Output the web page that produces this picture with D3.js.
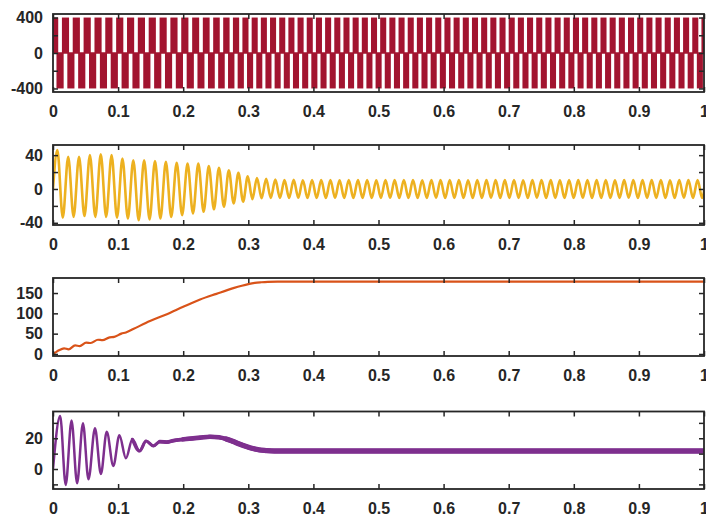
<!DOCTYPE html>
<html><head><meta charset="utf-8">
<script src="https://cdn.jsdelivr.net/npm/d3@7"></script>
<style>
html,body{margin:0;padding:0;background:#fff;overflow:hidden}
svg{display:block}
.axis text{font-family:"Liberation Sans",Arial,sans-serif;font-weight:bold;font-size:16px;fill:#262626}
.axis line{stroke:#262626;stroke-width:1.5}
</style></head><body>
<svg id="c" width="706" height="518"></svg>
<script>
// ---------- data ----------
const xTicks = [0,0.1,0.2,0.3,0.4,0.5,0.6,0.7,0.8,0.9,1];
const xTickLabels = ["0","0.1","0.2","0.3","0.4","0.5","0.6","0.7","0.8","0.9","1"];

const p1YTicks = [-400,-200,0,200,400];  const p1YLabels = [-400,0,400];
const p2YTicks = [-40,-20,0,20,40];      const p2YLabels = [-40,0,40];
const p3YTicks = [0,50,100,150];         const p3YLabels = [0,50,100,150];
const p4YTicks = [-10,0,10,20,30];       const p4YLabels = [0,20];

const cycleStart = [0,.0167,.0333,.05,.0667,.0833,.1,.1167,.1333,.15,.1667,.1833,.2,.2167,.233,.2488,.2641,.279,.2935,.3077,.3218,.3359,
 .35,.3641,.3782,.3923,.4064,.4205,.4346,.4487,.4628,.4769,.491,.5051,.5192,.5333,.5474,.5615,.5756,.5897,.6038,.6179,.632,.6461,.6602,.6743,
 .6884,.7025,.7166,.7307,.7448,.7589,.773,.7871,.8012,.8153,.8294,.8435,.8576,.8717,.8858,.8999,.914,.9281,.9422,.9563,.9704,.9845,.9986];
const pwmLevel = 400;

// panel 2: per-cycle positive peak and negative trough of the current
const curPeak = [46,38,38,40,41,40,36,34,34,33,32,31,30,30,27,25,22,19,15,13,12,11,
 10.5,10.8,10.4,10.6,10.5,10.7,10.4,10.6,10.5,10.6,
 10.4,10.7,10.5,10.6,10.5,10.4,10.6,10.5,10.7,10.5,
 10.4,10.6,10.5,10.6,10.5,10.7,10.4,10.5,10.6,10.5,
 10.4,10.6,10.5,10.7,10.5,10.6,10.4,10.5,10.6,10.5,
 10.5,10.7,10.4,10.6,10.5,10.6,10.5];
const curTrough = [-34,-33,-32,-33,-33,-34,-35,-37,-36,-35,-33,-31,-29,-27,-24,-21,-17,-15,-12,-11,-10.5,-10.5,
 -10.6,-10.4,-10.7,-10.5,-10.6,-10.4,-10.5,-10.7,-10.5,-10.6,
 -10.5,-10.4,-10.6,-10.5,-10.7,-10.5,-10.4,-10.6,-10.5,-10.6,
 -10.7,-10.5,-10.4,-10.6,-10.5,-10.5,-10.7,-10.4,-10.6,-10.5,
 -10.6,-10.5,-10.4,-10.7,-10.5,-10.6,-10.5,-10.4,-10.6,-10.5,
 -10.5,-10.6,-10.7,-10.4,-10.5,-10.6,-10.5];

// panel 3: speed
const speedT = [0,.004,.009,.017,.024,.034,.041,.051,.058,.069,.076,.087,.094,.105,.112,.124,.149,.175,.2,.226,.251,.277,.29,.3,.31,.32,.33,.345,.4,.6,.8,1];
const speedV = [0,4,9,14,11.5,21,19.5,28,27,35,34,41,42,50,53,62,81,98,116,134,148,162,168,172,175,176.5,177.5,178,178,178,178,178];

// panel 4: torque
const torqueT = [0,.011,.0195,.0285,.037,.046,.0545,.0645,.0736,.0825,.0927,.102,.112,.122,.133,.143,.154,.164,.175,.185,.2,.226,.241,.255,.266,.276,.286,.297,.307,.317,.327,.34,.5,.7,1];
const torqueV = [0,34.5,-10.4,31.5,-9.3,29.8,-6.7,26.5,-3.3,24.3,2,22,7,19.3,11.7,18.2,15,17.8,17.5,18.5,19.3,20.4,21,20.6,19.5,18,16.3,14.6,13.3,12.4,12,11.7,11.7,11.7,11.7];

// ---------- drawing ----------
const svg = d3.select("#c");
const x = d3.scaleLinear().domain([0,1]).range([53,704]);
const panels = [
  {top:14,  bottom:92,  domain:[-440,440],  ticks:p1YTicks, labels:p1YLabels},
  {top:145, bottom:225, domain:[-42.6,52],  ticks:p2YTicks, labels:p2YLabels},
  {top:278, bottom:356, domain:[-5,187],    ticks:p3YTicks, labels:p3YLabels},
  {top:411.5,bottom:489,domain:[-13,37.4],  ticks:p4YTicks, labels:p4YLabels}
];
panels.forEach((p,i)=>{
  p.y = d3.scaleLinear().domain(p.domain).range([p.bottom,p.top]);
  svg.append("clipPath").attr("id","clip"+i).append("rect")
    .attr("x",x(0)).attr("y",p.top).attr("width",x(1)-x(0)).attr("height",p.bottom-p.top);
  p.g = svg.append("g").attr("clip-path",`url(#clip${i})`);
});

// panel 1: PWM voltage
{
  const p = panels[0], y = p.y;
  const g = p.g.append("g").attr("fill","#A2142F");
  const per = cycleStart.map((s,k)=> k<cycleStart.length-1 ? cycleStart[k+1]-s : s-cycleStart[k-1]);
  g.append("line").attr("x1",x(0)).attr("x2",x(1)).attr("y1",y(0)).attr("y2",y(0))
    .attr("stroke","#A2142F").attr("stroke-width",1.5);
  g.selectAll("rect.up").data(cycleStart).join("rect").attr("class","up")
    .attr("x",(s,k)=>x(Math.max(0,s-0.18*per[k])))
    .attr("width",(s,k)=>x(s+0.48*per[k])-x(Math.max(0,s-0.18*per[k])))
    .attr("y",y(pwmLevel)).attr("height",y(0)-y(pwmLevel));
  g.selectAll("rect.dn").data(cycleStart).join("rect").attr("class","dn")
    .attr("x",(s,k)=>x(s+0.32*per[k]))
    .attr("width",(s,k)=>x(s+0.98*per[k])-x(s+0.32*per[k]))
    .attr("y",y(0)).attr("height",y(-pwmLevel)-y(0));
}

// panel 2: current
{
  const p = panels[1], y = p.y;
  const pts = [[0,0]];
  cycleStart.forEach((s,k)=>{
    const P = k<cycleStart.length-1 ? cycleStart[k+1]-s : s-cycleStart[k-1];
    pts.push([s+0.4*P, curPeak[k]]);
    pts.push([s+0.9*P, curTrough[k]]);
  });
  const line = d3.line().x(d=>x(d[0])).y(d=>y(d[1])).curve(d3.curveMonotoneX);
  p.g.append("path").attr("d",line(pts)).attr("fill","none")
    .attr("stroke","#EDB120").attr("stroke-width",2.6).attr("stroke-linejoin","round");
}

// panel 3: speed
{
  const p = panels[2], y = p.y;
  const pts = speedT.map((t,i)=>[t,speedV[i]]);
  const line = d3.line().x(d=>x(d[0])).y(d=>y(d[1])).curve(d3.curveMonotoneX);
  p.g.append("path").attr("d",line(pts)).attr("fill","none")
    .attr("stroke","#D95319").attr("stroke-width",2.2);
}

// panel 4: torque (ripple band thickens as the motor reaches steady state)
{
  const p = panels[3], y = p.y;
  const pts = torqueT.map((t,i)=>[t,torqueV[i]]);
  const line = d3.line().x(d=>x(d[0])).y(d=>y(d[1])).curve(d3.curveMonotoneX);
  p.g.append("path").attr("d",line(pts)).attr("fill","none")
    .attr("stroke","#7E2F8E").attr("stroke-width",2.5).attr("stroke-linejoin","round");
  [[0.12,3.2],[0.16,3.9],[0.2,4.6],[0.26,5.3]].forEach(([t0,w])=>{
    p.g.append("path").attr("d",line(pts.filter(d=>d[0]>=t0))).attr("fill","none")
      .attr("stroke","#7E2F8E").attr("stroke-width",w).attr("stroke-linecap","round");
  });
}

// axes and frames
panels.forEach(p=>{
  const y = p.y;
  const fmtX = d=>xTickLabels[xTicks.indexOf(d)];
  const a = svg.append("g");
  a.append("g").attr("class","axis").attr("transform",`translate(0,${p.bottom})`)
    .call(d3.axisBottom(x).tickValues(xTicks).tickSize(-5).tickPadding(14).tickFormat(fmtX));
  a.append("g").attr("class","axis").attr("transform",`translate(0,${p.top})`)
    .call(d3.axisTop(x).tickValues(xTicks).tickSize(-5).tickFormat(""));
  a.append("g").attr("class","axis").attr("transform",`translate(${x(0)},0)`)
    .call(d3.axisLeft(y).tickValues(p.ticks).tickSize(-5).tickPadding(10)
      .tickFormat(d=>p.labels.includes(d)?String(d):""));
  a.append("g").attr("class","axis").attr("transform",`translate(${x(1)},0)`)
    .call(d3.axisRight(y).tickValues(p.ticks).tickSize(-5).tickFormat(""));
  a.selectAll(".domain").remove();
  a.append("rect").attr("x",x(0)).attr("y",p.top).attr("width",x(1)-x(0)).attr("height",p.bottom-p.top)
    .attr("fill","none").attr("stroke","#262626").attr("stroke-width",1.8);
});
</script>
</body></html>
